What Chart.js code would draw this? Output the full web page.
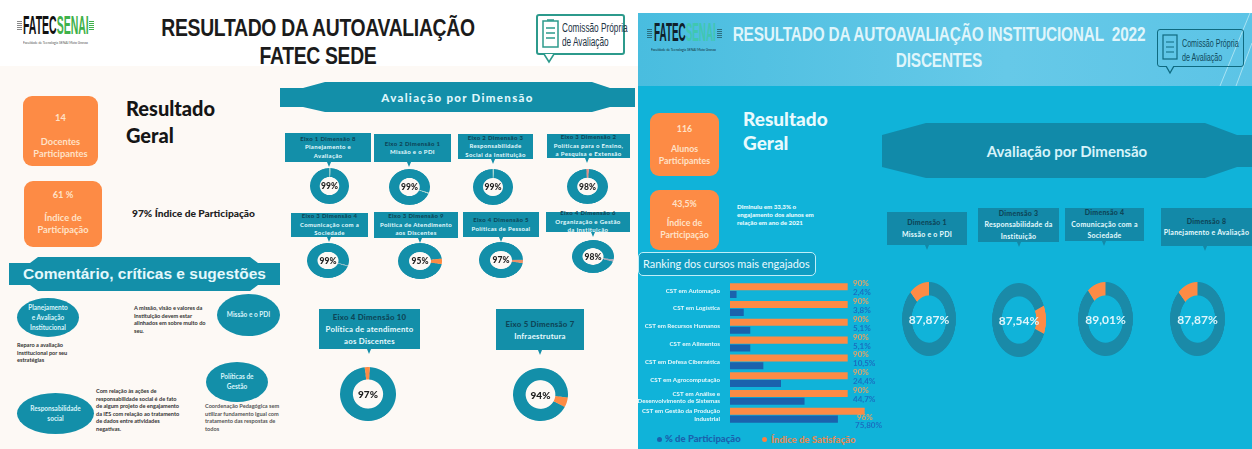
<!DOCTYPE html>
<html lang="pt-BR">
<head>
<meta charset="utf-8">
<title>Resultado da Autoavaliação</title>
<script src="https://cdn.jsdelivr.net/npm/chart.js@4"></script>
<style>
html,body{margin:0;padding:0;background:#fff;overflow:hidden}
#stage{position:relative;width:1252px;height:449px;overflow:hidden;background:#fff;filter:blur(.6px);font-family:Lato,"Open Sans",sans-serif}
#stage>*{position:absolute}
.bg-left{left:0;top:66px;width:638px;height:383px;background:#fdf9f5}
.bg-right{left:638px;top:13px;width:614px;height:436px;background:#10b3d9}
.bg-head{left:638px;top:13px;width:614px;height:73px;background:linear-gradient(90deg,#49bddf,#66c9e8 60%,#5cc4e6)}
.title{font-family:"Liberation Sans",Arial,sans-serif;font-weight:700;text-align:center;white-space:pre;line-height:1}
.card{background:#fd8b45;border-radius:9px;color:#ffe2c8;text-align:center;font-weight:700;font-size:9.3px;line-height:12.5px;box-sizing:border-box}
.gap{display:block}
.head{font-weight:900;font-size:20px;line-height:27px}
.band{display:flex;align-items:center;justify-content:center}
.box{box-sizing:border-box;text-align:center;color:#e6fbff;font-weight:700;display:flex;flex-direction:column;justify-content:center;white-space:nowrap;overflow:visible}
.box b{color:#0d4658;font-weight:900}
.tail{width:0;height:0;border-left:2px solid transparent;border-right:2px solid transparent;border-top:5px solid #138fa9}
.oval{border-radius:50%;background:#138fa9;color:#d7f4fa;display:flex;align-items:center;justify-content:center;text-align:center;font-size:6.5px;line-height:10px;font-weight:700}
.note{color:#333;font-size:5.6px;line-height:7.6px;font-weight:700}
.donut-text{display:flex;align-items:center;justify-content:center;white-space:nowrap;pointer-events:none}
.lg{font-weight:900;font-size:9.5px;white-space:nowrap}
.dot{width:5px;height:5px;border-radius:50%}
.logo{white-space:nowrap;font-family:"Liberation Sans",Arial,sans-serif;font-weight:700;transform-origin:0 0;line-height:1}
.sub{white-space:nowrap;transform-origin:0 0;line-height:1}
.cpa{box-sizing:border-box;border-radius:3px}
.cpa-t{font-family:"Liberation Sans",Arial,sans-serif;white-space:nowrap;line-height:1;transform-origin:0 0}
</style>
</head>
<body>
<div id="stage">
  <div class="bg-left"></div>
  <div class="bg-right"></div>
  <div class="bg-head"></div>
  <svg style="left:1200px;top:13px" width="52" height="73"><path d="M50 0 L20 73 M52 30 L36 73" stroke="#a8e2f2" stroke-width="1" fill="none"/></svg>

  <!-- Left header -->
  <div class="logo" style="left:23px;top:13px;font-size:25px;transform:scaleX(.42);color:#111">FATEC<span style="color:#3fb24a">SENAI</span></div>
  <div style="left:17px;top:21px;width:5px;height:9px;background:repeating-linear-gradient(#888 0 1px,transparent 1px 2px)"></div>
  <div style="left:89px;top:21px;width:5px;height:9px;background:repeating-linear-gradient(#3fb24a 0 1px,transparent 1px 2px)"></div>
  <div class="sub" style="left:23px;top:40px;font-size:4.6px;color:#555;transform:scaleX(.72)">Faculdade de Tecnologia SENAI Mato Grosso</div>
  <div class="title" style="left:98px;top:16px;width:440px;font-size:24px;color:#1b1b1b;letter-spacing:-.4px;transform:scaleX(.807)">RESULTADO DA AUTOAVALIAÇÃO</div>
  <div class="title" style="left:218px;top:44px;width:200px;font-size:24px;color:#1b1b1b;letter-spacing:-.4px;transform:scaleX(.807)">FATEC SEDE</div>
  <div class="cpa" style="left:536px;top:14px;width:89px;height:41px;border:2px solid #2c9a8c;background:#fff"></div>
  <svg style="left:543px;top:54px" width="14" height="10"><path d="M1 0 L6 8 L11 0" stroke="#2c9a8c" stroke-width="1.6" fill="#fff"/></svg>
  <svg style="left:541px;top:18px" width="20" height="32"><rect x="2" y="3" width="15" height="26" fill="none" stroke="#2c9a8c" stroke-width="1.5"/><path d="M5 10h9M5 15h9M5 20h9M6 2h7" stroke="#2c9a8c" stroke-width="1.3"/></svg>
  <div class="cpa-t" style="left:562px;top:22px;font-size:12.5px;color:#234;transform:scaleX(.66)">Comissão Própria</div>
  <div class="cpa-t" style="left:562px;top:36px;font-size:12.5px;color:#234;transform:scaleX(.66)">de Avaliação</div>

  <!-- Right header -->
  <div class="logo" style="left:654px;top:19px;font-size:26px;transform:scaleX(.38);color:#10202a">FATEC<span style="color:#3fc7b0">SENAI</span></div>
  <div style="left:647px;top:29px;width:5px;height:9px;background:repeating-linear-gradient(#2b6f80 0 1px,transparent 1px 2px)"></div>
  <div style="left:717px;top:29px;width:5px;height:9px;background:repeating-linear-gradient(#2b6f80 0 1px,transparent 1px 2px)"></div>
  <div class="sub" style="left:651px;top:46.5px;font-size:4.6px;color:#10303a;transform:scaleX(.72)">Faculdade de Tecnologia SENAI Mato Grosso</div>
  <div class="title" style="left:669px;top:24px;width:540px;font-size:20px;color:#dff5fb;letter-spacing:-.25px;transform:scaleX(.77)">RESULTADO DA AUTOAVALIAÇÃO INSTITUCIONAL  2022</div>
  <div class="title" style="left:859px;top:50px;width:160px;font-size:20px;color:#dff5fb;letter-spacing:-.25px;transform:scaleX(.77)">DISCENTES</div>
  <div class="cpa" style="left:1157px;top:29px;width:87px;height:38px;border:1.5px solid #0f6a80"></div>
  <svg style="left:1165px;top:66px" width="12" height="9"><path d="M1 0 L5 7 L9 0" stroke="#0f6a80" stroke-width="1.3" fill="#5cc4e6"/></svg>
  <svg style="left:1161px;top:32px" width="18" height="30"><rect x="2" y="3" width="14" height="24" fill="none" stroke="#0f6a80" stroke-width="1.2"/><path d="M5 10h8M5 15h8M5 20h8" stroke="#0f6a80" stroke-width="1.1"/></svg>
  <div class="cpa-t" style="left:1182px;top:38px;font-size:11.5px;color:#0e4a5c;transform:scaleX(.62)">Comissão Própria</div>
  <div class="cpa-t" style="left:1182px;top:52px;font-size:11.5px;color:#0e4a5c;transform:scaleX(.62)">de Avaliação</div>

  <!-- Left summary -->
  <div class="card" style="left:23px;top:96px;width:75px;height:70px;padding-top:16px">14<span class="gap" style="height:11px"></span>Docentes<br>Participantes</div>
  <div class="card" style="left:24px;top:181px;width:78px;height:66px;padding-top:8px">61 %<span class="gap" style="height:10px"></span>Índice de<br>Participação</div>
  <div class="head" style="left:126px;top:95px;color:#151515">Resultado<br>Geral</div>
  <div style="left:132px;top:207px;font-size:10.2px;font-weight:900;color:#222;white-space:nowrap">97% Índice de Participação</div>

  <!-- Left bands -->
  <div class="band" style="left:280px;top:82px;width:355px;height:30px;background:#138fa9;color:#dff6fb;font-weight:900;font-size:11.5px;letter-spacing:1.3px;clip-path:polygon(0 6px,23px 6px,45px 0,312px 0,330px 6px,355px 6px,355px 25px,330px 25px,312px 30px,45px 30px,23px 25px,0 25px)">Avaliação por Dimensão</div>
  <div class="band" style="left:9px;top:257px;width:271px;height:34px;background:#138fa9;color:#e4f8fc;font-family:'Liberation Sans',Arial,sans-serif;font-weight:700;font-size:15.5px;clip-path:polygon(0 6px,21px 6px,29px 0,241px 0,249px 6px,271px 6px,271px 28px,249px 28px,241px 34px,29px 34px,21px 28px,0 28px)">Comentário, críticas e sugestões</div>

  <!-- Left comments -->
  <div class="oval" style="left:17px;top:298px;width:62px;height:39px">Planejamento<br>e Avaliação<br>Institucional</div>
  <div class="oval" style="left:217px;top:294px;width:63px;height:42px">Missão e o PDI</div>
  <div class="oval" style="left:206px;top:362px;width:62px;height:40px">Políticas de<br>Gestão</div>
  <div class="oval" style="left:17px;top:393px;width:77px;height:41px">Responsabilidade<br>social</div>
  <div class="note" style="left:17px;top:341px;width:54px">Reparo a avaliação institucional por seu estratégias</div>
  <div class="note" style="left:134px;top:304px;width:78px">A missão, visão e valores da Instituição devem estar alinhados em sobre muito do seu.</div>
  <div class="note" style="left:96px;top:387px;width:84px">Com relação às ações de responsabilidade social é de fato de algum projeto de engajamento da IES com relação ao tratamento de dados entre atividades negativas.</div>
  <div class="note" style="left:205px;top:402px;width:76px;color:#555">Coordenação Pedagógica sem utilizar fundamento igual com tratamento das respostas de todos</div>

  <!-- Right summary -->
  <div class="card" style="left:650px;top:113px;width:69px;height:63px;padding-top:10px;font-size:8.8px">116<span class="gap" style="height:7px"></span>Alunos<br>Participantes</div>
  <div class="card" style="left:650px;top:190px;width:69px;height:60px;padding-top:8px;font-size:8.8px">43,5%<span class="gap" style="height:6px"></span>Índice de<br>Participação</div>
  <div class="head" style="left:743px;top:107px;color:#e8fafd;font-size:19px;line-height:24px">Resultado<br>Geral</div>
  <div style="left:737px;top:203px;width:80px;color:#e6fbff;font-size:6.2px;line-height:8px;font-weight:900">Diminuiu em 33,3% o engajamento dos alunos em relação em ano de 2021</div>
  <div class="band" style="left:882px;top:123px;width:370px;height:55px;background:#118aa9;color:#d6f3fa;font-size:15px;font-weight:700;clip-path:polygon(0 12px,44px 0,323px 0,355px 12px,370px 12px,370px 44px,355px 44px,323px 55px,44px 55px,0 44px)">Avaliação por Dimensão</div>

  <!-- Ranking -->
  <div style="left:638px;top:252px;width:178px;height:24px;box-sizing:border-box;border:1px solid #bfeef8;border-radius:5px;background:#0f9dc2;color:#eafaff;font-size:10.9px;line-height:22px;padding-left:4px;white-space:nowrap;font-weight:400">Ranking dos cursos mais engajados</div>
  <div style="left:628px;top:272px;width:272px;height:177px"><canvas id="ranking" width="272" height="158"></canvas></div>
  <div class="dot" style="left:657px;top:437px;background:#1a62ad"></div>
  <div class="lg" style="left:665px;top:433px;color:#1a62ad">% de Participação</div>
  <div class="dot" style="left:762px;top:437px;background:#fd8040"></div>
  <div class="lg" style="left:771px;top:434px;color:#e08a55">Índice de Satisfação</div>
</div>

<script>
/* ---------- Data ---------- */
const sedeDimensionNames = [
  ["Eixo 1 Dimensão 8", "Planejamento e", "Avaliação"],
  ["Eixo 2 Dimensão 1", "Missão e o PDI"],
  ["Eixo 2 Dimensão 3", "Responsabilidade", "Social da Instituição"],
  ["Eixo 3 Dimensão 2", "Políticas para o Ensino,", "a Pesquisa e Extensão"],
  ["Eixo 3 Dimensão 4", "Comunicação com a", "Sociedade"],
  ["Eixo 3 Dimensão 9", "Política de Atendimento", "aos Discentes"],
  ["Eixo 4 Dimensão 5", "Políticas de Pessoal"],
  ["Eixo 4 Dimensão 6", "Organização e Gestão", "da Instituição"]
];
const sedeDimensionValues = [99, 99, 99, 98, 99, 95, 97, 98];
const sedeBigNames = [
  ["Eixo 4 Dimensão 10", "Política de atendimento", "aos Discentes"],
  ["Eixo 5 Dimensão 7", "Infraestrutura"]
];
const sedeBigValues = [97, 94];
const alunosDimensionNames = [
  ["Dimensão 1", "Missão e o PDI"],
  ["Dimensão 3", "Responsabilidade da", "Instituição"],
  ["Dimensão 4", "Comunicação com a", "Sociedade"],
  ["Dimensão 8", "Planejamento e Avaliação"]
];
const alunosDimensionValues = [87.87, 87.54, 89.01, 87.87];
const alunosDimensionLabels = ["87,87%", "87,54%", "89,01%", "87,87%"];

const courseNames = [
  "CST em Automação", "CST em Logística", "CST em Recursos Humanos", "CST em Alimentos",
  "CST em Defesa Cibernética", "CST em Agrocomputação",
  ["CST em Análise e", "Desenvolvimento de Sistemas"],
  ["CST em Gestão da Produção", "Industrial"]
];
/* Bar lengths as they are drawn in the picture (the printed labels are not to scale with them). */
const participationBars = [5, 10.5, 15.5, 15.5, 25.5, 39, 57, 82.5];
const satisfactionBars = [90, 90, 90, 90, 90, 90, 90, 103];
const participationLabels = ["2,4%", "3,8%", "5,1%", "5,1%", "10,5%", "24,4%", "44,7%", "75,80%"];
const satisfactionLabels = ["90%", "90%", "90%", "90%", "90%", "90%", "90%", "96%"];

/* ---------- Layout ---------- */
const TEAL = "#138fa9", ORANGE = "#fd8b45";
const stage = document.getElementById("stage");
Chart.defaults.animation = false;
Chart.defaults.font.family = "Lato, 'Open Sans', sans-serif";

function el(cls, css, html) {
  const d = document.createElement("div");
  d.className = cls; d.style.cssText = css; if (html !== undefined) d.innerHTML = html;
  stage.appendChild(d); return d;
}
function callout(rect, lines, font, bg, tailX, lh, sp) {
  const [x, y, w, h] = rect;
  const html = lines.map((t, i) => i === 0 ? `<b>${t}</b>` : `<span>${t}</span>`).join("");
  el("box", `left:${x}px;top:${y}px;width:${w}px;height:${h}px;background:${bg};font-size:${font}px;line-height:${lh}px;letter-spacing:${sp}px`, html);
  const tail = el("tail", `left:${tailX - 2}px;top:${y + h}px`);
  tail.style.borderTopColor = bg;
}
function donut(rect, value, opts) {
  const [x, y, w, h] = rect, S = Math.max(w, h) * 2;
  const box = el("", `left:${x}px;top:${y}px;width:${w}px;height:${h}px`);
  const c = document.createElement("canvas");
  c.width = S; c.height = S;
  c.style.cssText = "position:absolute;left:0;top:0";
  box.appendChild(c);
  new Chart(c, {
    type: "doughnut",
    data: { labels: ["Avaliação", "Restante"], datasets: [{ data: [value, 100 - value], backgroundColor: [opts.main, opts.rest], borderWidth: 0 }] },
    options: {
      responsive: false, maintainAspectRatio: false, cutout: opts.cutout, rotation: opts.rotation,
      layout: { padding: 0 }, plugins: { legend: { display: false }, tooltip: { enabled: false } }
    }
  });
  c.style.width = w + "px"; c.style.height = h + "px";
  el("donut-text", `left:${x}px;top:${y}px;width:${w}px;height:${h}px;color:${opts.color};font:${opts.font}`, opts.text);
}

/* Left panel – callouts and doughnuts */
const sedeBoxes = [[285,133,86,29],[374,134,77,28],[458,134,75,25],[547,134,83,24],[291,213,77,24],[374,212,84,26],[463,212,76,25],[546,212,84,20]];
const sedeTails = [329,409,493,587,329,420,501,593];
const sedeRings = [[310,168,39,36],[389,169,41,36],[473,169,40,36],[567,169,41,35],[307,243,42,35],[398,243,44,36],[479,242,44,36],[572,240,42,33]];
const sedeRotations = [3, 112, 3, 4, 110, 100, 100, 108];
const sedeRests = ["#a9d6cf", "#a9d6cf", "#a9d6cf", "#e58f86", "#8fb8c4", ORANGE, "#e8916a", "#a8a8b8"];
sedeDimensionNames.forEach((n, i) => callout(sedeBoxes[i], n, 6, TEAL, sedeTails[i], 8.4, .35));
sedeDimensionValues.forEach((v, i) => donut(sedeRings[i], v, {
  main: TEAL, rest: sedeRests[i], cutout: "50%", rotation: sedeRotations[i],
  color: "#1d1d1d", font: "900 8.5px Lato", text: v + "%"
}));
callout([319,309,101,40], sedeBigNames[0], 7.8, TEAL, 369, 12, .25);
callout([496,309,88,41], sedeBigNames[1], 7.8, TEAL, 540, 12, .25);
[[340,367,56,54],[513,368,55,53]].forEach((r, i) => donut(r, sedeBigValues[i], {
  main: TEAL, rest: ORANGE, cutout: "54%", rotation: [4, 118][i],
  color: "#1d1d1d", font: "900 10px Lato", text: sedeBigValues[i] + "%"
}));

/* Right panel */
const alunosBoxes = [[887,212,80,33],[978,208,81,34],[1065,208,79,33],[1161,208,91,38]];
const alunosTails = [927,1019,1104,1205];
const alunosRings = [[902,282,54,74],[992,283,54,74],[1078,282,55,74],[1170,282,55,74]];
const alunosRotations = [0, 112, 0, 0];
alunosDimensionNames.forEach((n, i) => callout(alunosBoxes[i], n, 7, "#1389a8", alunosTails[i], 11.5, .25));
alunosDimensionValues.forEach((v, i) => donut(alunosRings[i], v, {
  main: "#1a8aa8", rest: ORANGE, cutout: "64%", rotation: alunosRotations[i],
  color: "#dff5fb", font: "700 12px Lato", text: alunosDimensionLabels[i]
}));

/* Ranking bar chart */
const barLabels = {
  id: "barLabels",
  afterDatasetsDraw(chart) {
    const { ctx } = chart, x = chart.chartArea.left + 123;
    ctx.save();
    ctx.font = "700 8px Lato"; ctx.textBaseline = "middle"; ctx.textAlign = "left";
    const sat = chart.getDatasetMeta(0).data, par = chart.getDatasetMeta(1).data;
    sat.forEach((b, i) => {
      const last = i === sat.length - 1;
      ctx.fillStyle = "#e7a268";
      ctx.fillText(satisfactionLabels[i], x + (last ? 4 : 0), b.y + (last ? 6.5 : -3));
      ctx.fillStyle = "#1a6fc0";
      ctx.fillText(participationLabels[i], x + (last ? 2 : 0), par[i].y + (last ? 6.5 : -2));
    });
    ctx.restore();
  }
};
new Chart(document.getElementById("ranking"), {
  type: "bar",
  data: {
    labels: courseNames,
    datasets: [
      { label: "Índice de Satisfação", data: satisfactionBars, backgroundColor: "#fd8b45" },
      { label: "% de Participação", data: participationBars, backgroundColor: "#1a62ad" }
    ]
  },
  options: {
    indexAxis: "y", responsive: false, maintainAspectRatio: false,
    categoryPercentage: .88, barPercentage: .9,
    layout: { padding: { left: 0, right: 0, top: 3, bottom: 3 } },
    scales: {
      x: { display: false, min: 0, max: 130 },
      y: {
        afterFit(s) { s.width = 102; },
        grid: { display: false }, border: { display: false },
        ticks: { color: "#e6f8fc", padding: 2, autoSkip: false, font: { size: 6.2, weight: "700", lineHeight: 1.25 } }
      }
    },
    plugins: { legend: { display: false }, tooltip: { enabled: false } }
  },
  plugins: [barLabels]
});
</script>
</body>
</html>
